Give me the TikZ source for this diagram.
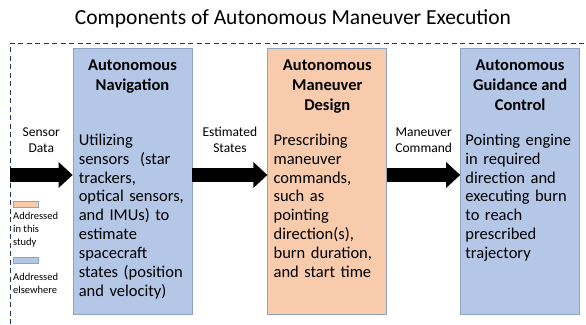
\documentclass[tikz,border=0pt]{standalone}
\usepackage{fontspec}
\setmainfont{Carlito}
\usepackage{xcolor}
\usetikzlibrary{arrows.meta,positioning}
\definecolor{navblue}{HTML}{B4C7E7}
\definecolor{designorange}{HTML}{F8CBAD}
\definecolor{boxedge}{HTML}{8EA2C2}
\definecolor{framenavy}{HTML}{203864}

\begin{document}
\begin{tikzpicture}[x=1pt,y=-1pt,
box/.style={draw=boxedge,line width=0.8pt,minimum width=119pt,minimum height=266pt,inner sep=0pt},
head/.style={align=center,inner sep=0pt,font=\fontsize{16.5}{20}\selectfont\bfseries},
body/.style={align=left,text width=118pt,inner sep=0pt,font=\fontsize{16.5}{18.9}\selectfont},
lbl/.style={align=center,inner sep=0pt,font=\fontsize{13.5}{16}\selectfont},
flow/.style={line width=14pt,-{Triangle[length=14pt,width=25pt]}},
key/.style={draw=boxedge,line width=0.6pt,minimum width=25pt,minimum height=6pt,inner sep=0pt},
keytext/.style={align=left,inner sep=0pt,font=\fontsize{10.5}{13}\selectfont},
frame/.style={draw=framenavy,line width=0.9pt,dash pattern=on 5pt off 3.5pt}
]
\useasboundingbox (0,0) rectangle (586,324);
\node[font=\fontsize{21.5}{25}\selectfont] (title) at (293,19) {Components of Autonomous Maneuver Execution};
\draw[frame] (10,324) -- (10,43) -- (586,43);

% the three stages
\node[box,fill=navblue] (nav) at (132.5,181) {};
\node[box,fill=designorange,right=75pt of nav] (design) {};
\node[box,fill=navblue,right=73pt of design] (guid) {};

\node[head,below=12pt of nav.north] (navhead) {Autonomous\\Navigation};
\node[head,below=12pt of design.north] (designhead) {Autonomous\\Maneuver\\Design};
\node[head,below=12pt of guid.north] (guidhead) {Autonomous\\Guidance and\\Control};

\node[body,below right=86pt and 6pt of nav.north west] (navbody) {Utilizing\\sensors~ (star\\trackers,\\optical sensors,\\and IMUs) to\\estimate\\spacecraft\\states (position\\and velocity)};
\node[body,below right=86pt and 6pt of design.north west] (designbody) {Prescribing\\maneuver\\commands,\\such as\\pointing\\direction(s),\\burn duration,\\and start time};
\node[body,below right=86pt and 5pt of guid.north west] (guidbody) {Pointing engine\\in required\\direction and\\executing burn\\to reach\\prescribed\\trajectory};

% block arrows between stages
\coordinate (row) at (0,175);
\coordinate (sensor) at (10,175);
\draw[flow] (sensor) -- node[lbl,above=15pt] (sensorlbl) {Sensor\\Data} (sensor -| nav.west);
\draw[flow] (nav.east |- row) -- node[lbl,above=15pt] (statelbl) {Estimated\\States} (design.west |- row);
\draw[flow] (design.east |- row) -- node[lbl,above=15pt] (cmdlbl) {Maneuver\\Command} (guid.west |- row);

% legend
\node[key,fill=designorange,anchor=north west] (keystudy) at (13,201) {};
\node[keytext,below right=4pt and 0pt of keystudy.south west] (keystudytxt) {Addressed\\in this\\study};
\node[key,fill=navblue,anchor=north west] (keyelse) at (13,257) {};
\node[keytext,below right=9pt and 0pt of keyelse.south west] (keyelsetxt) {Addressed\\elsewhere};
\end{tikzpicture}
\end{document}
